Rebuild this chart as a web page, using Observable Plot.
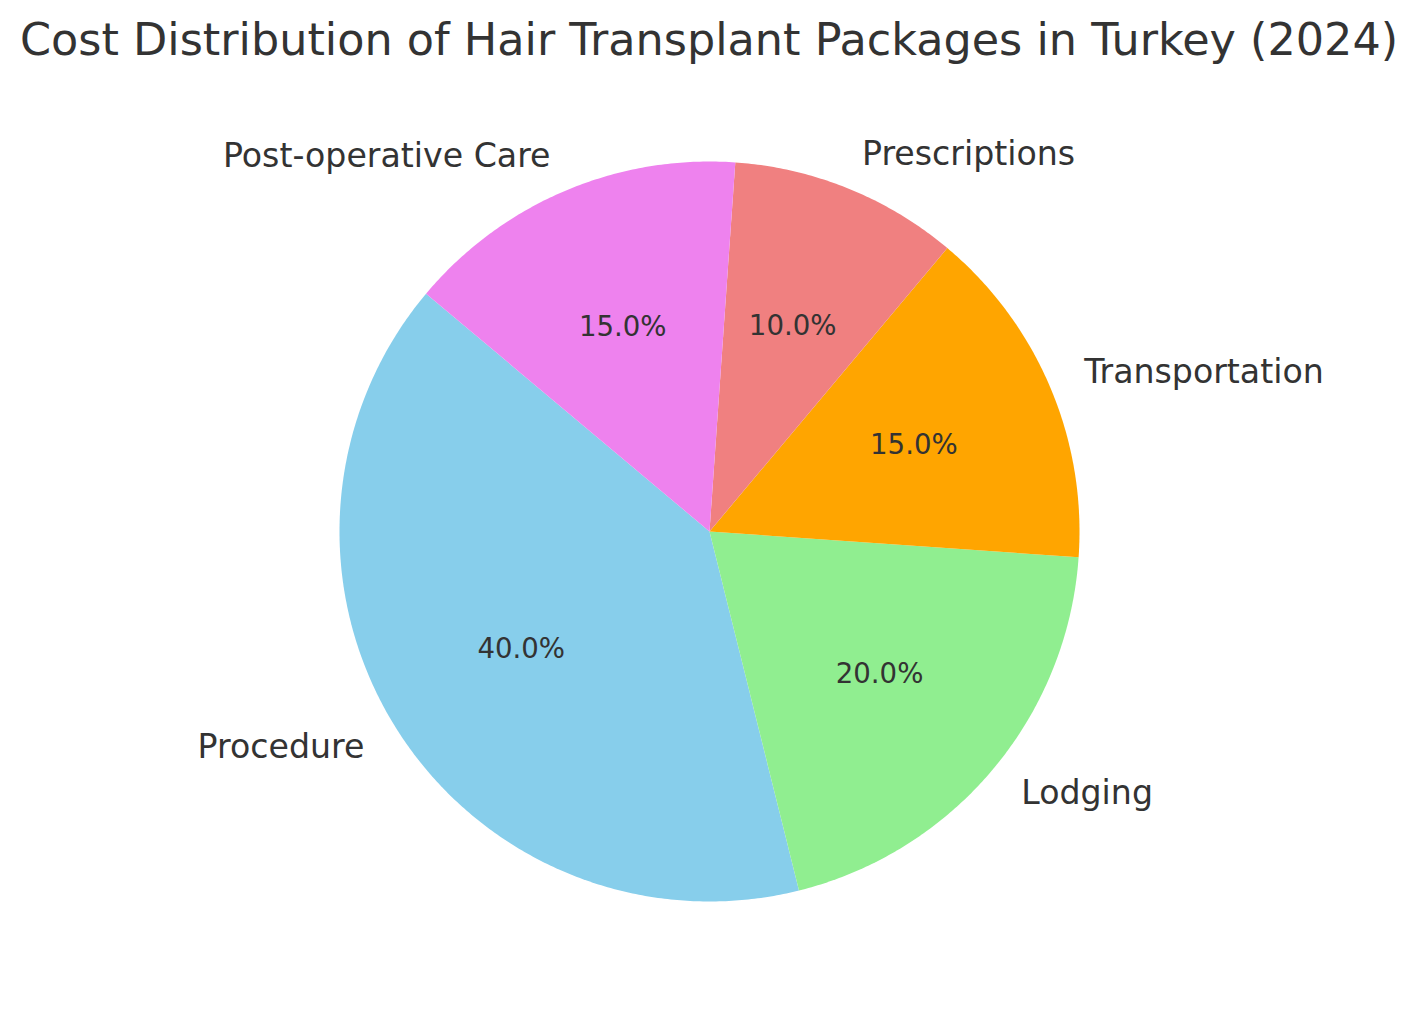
<!DOCTYPE html>
<html>
<head>
<meta charset="utf-8">
<script src="https://cdn.jsdelivr.net/npm/d3@7"></script>
<script src="https://cdn.jsdelivr.net/npm/@observablehq/plot@0.6"></script>
<style>
  html, body { margin: 0; padding: 0; background: #ffffff; }
  #chart svg { display: block; font-family: "DejaVu Sans", sans-serif; }
</style>
</head>
<body>
<div id="chart"></div>
<script>
const title = "Cost Distribution of Hair Transplant Packages in Turkey (2024)";
const categories = ["Procedure", "Lodging", "Transportation", "Prescriptions", "Post-operative Care"];
const values = [40, 20, 15, 10, 15];
const colors = ["#87CEEB", "#90EE90", "#FFA500", "#F08080", "#EE82EE"];
const startAngle = 140; // degrees, counter-clockwise from east

const total = d3.sum(values);
const slices = [];
let acc = 0;
categories.forEach((c, i) => {
  const a0 = startAngle + (acc / total) * 360;
  acc += values[i];
  const a1 = startAngle + (acc / total) * 360;
  slices.push({category: c, value: values[i], a0, a1, mid: (a0 + a1) / 2, pct: (values[i] / total * 100).toFixed(1) + "%"});
});

const rad = (d) => d * Math.PI / 180;
const polyPoints = [];
for (const s of slices) {
  polyPoints.push({category: s.category, x: 0, y: 0});
  const n = Math.max(2, Math.ceil((s.a1 - s.a0) / 0.5));
  for (let k = 0; k <= n; k++) {
    const a = rad(s.a0 + (s.a1 - s.a0) * k / n);
    polyPoints.push({category: s.category, x: Math.cos(a), y: Math.sin(a)});
  }
  polyPoints.push({category: s.category, x: 0, y: 0});
}

const labels = slices.map(s => ({text: s.category, x: 1.1 * Math.cos(rad(s.mid)), y: 1.1 * Math.sin(rad(s.mid))}));
const pcts = slices.map(s => ({text: s.pct, x: 0.6 * Math.cos(rad(s.mid)), y: 0.6 * Math.sin(rad(s.mid))}));

const chart = Plot.plot({
  width: 1417,
  height: 1014,
  margin: 0,
  x: {domain: [-1, 1], range: [339, 1079], axis: null},
  y: {domain: [-1, 1], range: [901, 161], axis: null},
  color: {domain: categories, range: colors},
  style: {fontFamily: "DejaVu Sans, sans-serif", background: "#ffffff"},
  marks: [
    Plot.line(polyPoints, {x: "x", y: "y", z: "category", fill: "category", stroke: "none", curve: "linear"}),
    Plot.text(pcts, {x: "x", y: "y", text: "text", fontSize: 27.6, fill: "#333333", textAnchor: "middle", lineAnchor: "middle"}),
    Plot.text(labels.filter(d => d.x < 0), {x: "x", y: "y", text: "text", fontSize: 33.2, fill: "#333333", textAnchor: "end", lineAnchor: "middle"}),
    Plot.text(labels.filter(d => d.x >= 0), {x: "x", y: "y", text: "text", fontSize: 33.2, fill: "#333333", textAnchor: "start", lineAnchor: "middle"}),
    Plot.text([title], {frameAnchor: "top", dy: 54, text: d => d, fontSize: 44.5, fill: "#333333", lineAnchor: "bottom"})
  ]
});
document.getElementById("chart").append(chart);
</script>
</body>
</html>
